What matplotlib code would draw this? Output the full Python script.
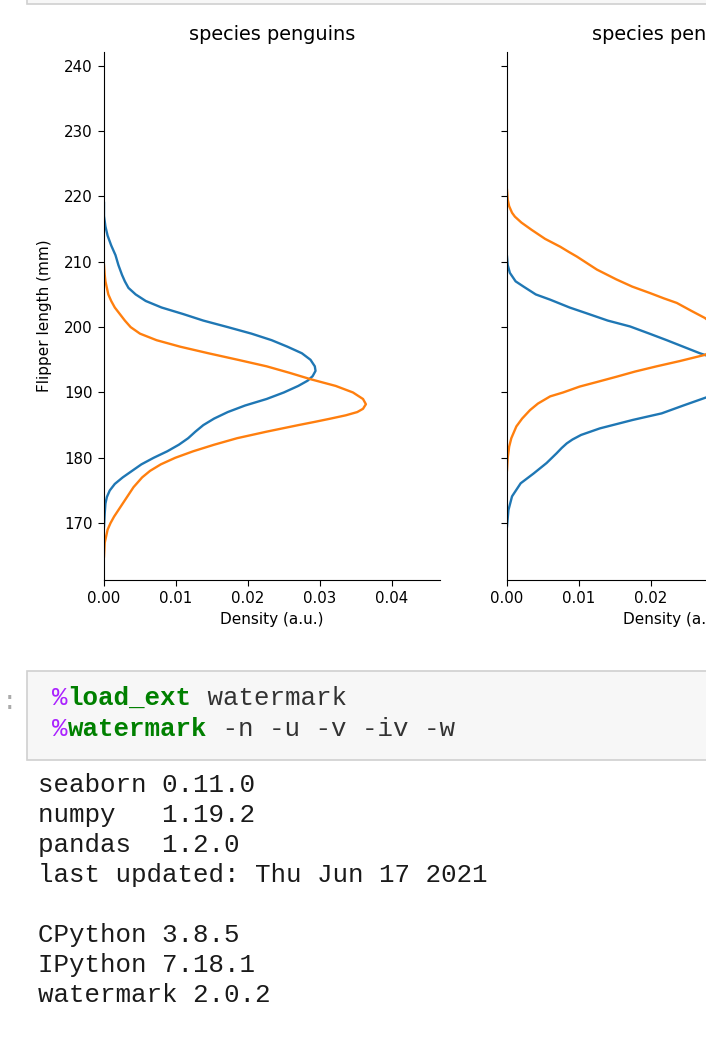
import numpy as np
import matplotlib.pyplot as plt
from matplotlib.patches import Rectangle

#------------------------------------------------------------------------------#
# data (flipper length in mm, density in a.u.)

left_blue_y = [219.0, 217.0, 215.4, 214.0, 212.5, 211.0, 209.5, 208.0, 207.0, 206.0,
               205.0, 204.0, 203.0, 202.0, 201.0, 200.0, 199.0, 198.0, 197.0, 196.0,
               195.0, 194.0, 193.3, 192.5, 191.8, 191.0, 190.0, 189.0, 188.0, 187.0,
               186.0, 185.0, 184.0, 183.0, 182.0, 181.0, 180.0, 179.0, 178.0, 177.0,
               176.0, 175.0, 174.0, 173.0, 171.5, 169.5]
left_blue_x = [0.0, 0.0, 0.0002, 0.0005, 0.0010, 0.0016, 0.0020, 0.0025, 0.0029, 0.0034,
               0.0044, 0.0058, 0.0080, 0.0110, 0.0138, 0.0172, 0.0205, 0.0233, 0.0255, 0.0275,
               0.0287, 0.0293, 0.0294, 0.0290, 0.0283, 0.0270, 0.0250, 0.0226, 0.0196, 0.0172,
               0.0153, 0.0138, 0.0127, 0.0117, 0.0104, 0.0088, 0.0069, 0.0052, 0.0039, 0.0026,
               0.0015, 0.0008, 0.0004, 0.0002, 0.0001, 0.0]

left_orange_y = [209.5, 208.0, 207.0, 206.0, 205.0, 204.0, 203.0, 202.0, 201.0, 200.0,
                 199.0, 198.0, 197.0, 196.0, 195.0, 194.0, 193.0, 192.0, 191.0, 190.0,
                 189.0, 188.2, 187.5, 187.0, 186.5, 186.0, 185.5, 185.0, 184.0, 183.0,
                 182.0, 181.0, 180.0, 179.0, 178.0, 177.0, 176.0, 175.5, 174.5, 173.0,
                 172.0, 171.0, 170.0, 169.0, 168.0, 167.0, 164.9]
left_orange_x = [0.0, 0.0001, 0.0002, 0.0004, 0.0006, 0.0010, 0.0015, 0.0022, 0.0029, 0.0037,
                 0.0050, 0.0073, 0.0106, 0.0145, 0.0186, 0.0226, 0.0258, 0.0288, 0.0322, 0.0346,
                 0.0360, 0.0364, 0.0360, 0.0352, 0.0336, 0.0315, 0.0293, 0.0270, 0.0226, 0.0185,
                 0.0153, 0.0124, 0.0099, 0.0079, 0.0064, 0.0053, 0.0045, 0.0041, 0.0035, 0.0026,
                 0.0020, 0.0014, 0.0009, 0.0005, 0.0003, 0.0001, 0.0]

right_blue_y = [210.8, 209.5, 208.3, 207.0, 206.2, 205.0, 204.2, 203.0, 202.1, 201.0,
                200.1, 199.0, 198.0, 197.0, 196.0, 195.0, 194.0, 193.0, 192.3, 191.5,
                190.5, 189.4, 188.0, 186.8, 185.8, 184.5, 183.5, 182.8, 182.2, 181.5,
                180.7, 179.2, 177.6, 176.1, 174.1, 172.0, 169.5]
right_blue_x = [0.0, 0.0001, 0.0004, 0.0012, 0.0023, 0.0040, 0.0060, 0.0087, 0.0111, 0.0140,
                0.0171, 0.0198, 0.0222, 0.0245, 0.0268, 0.0295, 0.0320, 0.0336, 0.0340, 0.0335,
                0.0315, 0.0281, 0.0245, 0.0215, 0.0175, 0.0129, 0.0103, 0.0091, 0.0083, 0.0076,
                0.0069, 0.0055, 0.0037, 0.0019, 0.0007, 0.0002, 0.0]

right_orange_y = [221.0, 219.5, 218.5, 217.5, 216.9, 216.0, 214.9, 213.5, 212.3, 211.5,
                  210.8, 209.8, 208.8, 207.3, 206.2, 205.2, 204.4, 203.7, 202.5, 201.4,
                  200.0, 198.5, 197.0, 195.75, 194.8, 194.0, 193.2, 192.4, 191.6, 190.9,
                  190.0, 189.4, 188.3, 187.3, 186.0, 184.8, 183.0, 181.7, 180.0, 178.1]
right_orange_x = [0.0, 0.0001, 0.0003, 0.0007, 0.0011, 0.0020, 0.0034, 0.0053, 0.0074, 0.0086,
                  0.0097, 0.0111, 0.0125, 0.0152, 0.0174, 0.0199, 0.0218, 0.0236, 0.0256, 0.0275,
                  0.0292, 0.0302, 0.0296, 0.0275, 0.0240, 0.0208, 0.0178, 0.0152, 0.0125, 0.0101,
                  0.0078, 0.0060, 0.0043, 0.0032, 0.0021, 0.0013, 0.0006, 0.0003, 0.0001, 0.0]

yticks = [170, 180, 190, 200, 210, 220, 230, 240]
xticks = [0.0, 0.01, 0.02, 0.03, 0.04]

code_lines = [[('%', '#AA22FF', 'normal'), ('load_ext', '#008000', 'bold'),
               (' watermark', '#333333', 'normal')],
              [('%', '#AA22FF', 'normal'), ('watermark', '#008000', 'bold'),
               (' -n -u -v -iv -w', '#333333', 'normal')]]
output_lines = ['seaborn 0.11.0', 'numpy   1.19.2', 'pandas  1.2.0',
                'last updated: Thu Jun 17 2021', '',
                'CPython 3.8.5', 'IPython 7.18.1', 'watermark 2.0.2']

#------------------------------------------------------------------------------#
W, H = 706, 1041
fig = plt.figure(figsize=(W/100, H/100), dpi=100)

def fx(x):
    return x/W

def fy(y):
    return 1 - y/H

def box(x0, y0, x1, y1):
    r = Rectangle((fx(x0), fy(y1)), fx(x1) - fx(x0), fy(y0) - fy(y1),
                  transform=fig.transFigure, facecolor='#f7f7f7',
                  edgecolor='#d0d0d0', linewidth=1.2)
    fig.patches.append(r)

# bottom of the previous cell and the watermark input cell
box(27, -10, 720, 4)
box(27, 671, 720, 760)

ax1 = fig.add_axes([fx(104), fy(580), fx(336), 528/H])
ax2 = fig.add_axes([fx(507), fy(580), fx(336), 528/H], sharey=ax1)

for ax in [ax1, ax2]:
    ax.spines['top'].set_visible(False)
    ax.spines['right'].set_visible(False)
    ax.set_xlim(0, 0.0467)
    ax.set_ylim(161.3, 242.1)
    ax.set_xticks(xticks)
    ax.set_yticks(yticks)
    ax.tick_params(labelsize=10.8, length=4.5)
    ax.set_title('species penguins', fontsize=13.9, pad=9)
    ax.set_xlabel('Density (a.u.)', fontsize=11)

ax1.plot(left_blue_x, left_blue_y, color='#1f77b4', lw=1.7)
ax1.plot(left_orange_x, left_orange_y, color='#ff7f0e', lw=1.7)
ax2.plot(right_blue_x, right_blue_y, color='#1f77b4', lw=1.7)
ax2.plot(right_orange_x, right_orange_y, color='#ff7f0e', lw=1.7)

ax1.set_ylabel('Flipper length (mm)', fontsize=11)
ax1.yaxis.set_label_coords(-0.155, 0.5)
plt.setp(ax2.get_yticklabels(), visible=False)

#------------------------------------------------------------------------------#
# notebook text
cw = 15.5
mono = 'Liberation Mono'
fs = 18.6

fig.text(fx(2), fy(709), ':', color='#aaaaaa', family=mono, fontsize=fs)
for i, parts in enumerate(code_lines):
    x = 52
    for txt, col, wt in parts:
        fig.text(fx(x), fy(705 + 31*i), txt, color=col, weight=wt,
                 family=mono, fontsize=fs, va='baseline')
        x += cw*len(txt)

for i, line in enumerate(output_lines):
    if line:
        fig.text(fx(38), fy(792 + 30*i), line, color='#1a1a1a',
                 family=mono, fontsize=fs, va='baseline')

plt.savefig('out.png', dpi=100)
